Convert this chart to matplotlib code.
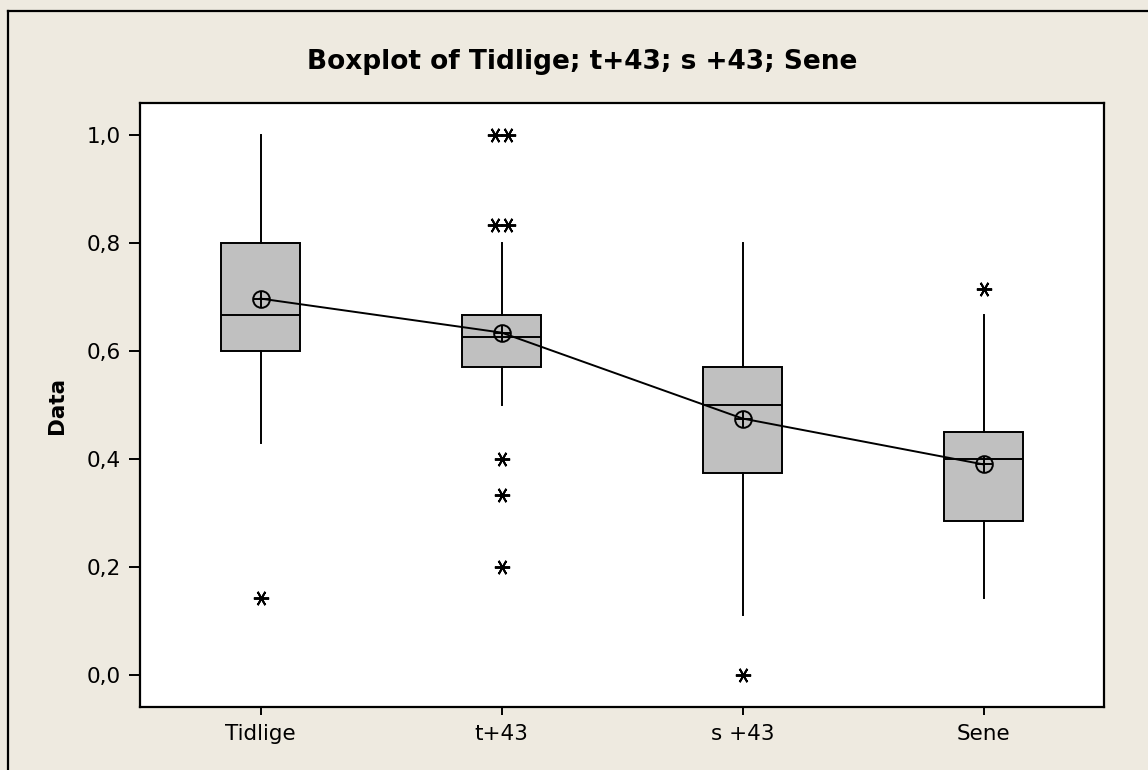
import matplotlib
matplotlib.use("Agg")
import matplotlib.pyplot as plt
from matplotlib.lines import Line2D
from matplotlib.ticker import FuncFormatter
from collections import Counter

# Data
categories = ["Tidlige", "t+43", "s +43", "Sene"]
q1 = [0.600, 0.571, 0.375, 0.286]
median = [0.667, 0.625, 0.500, 0.400]
q3 = [0.800, 0.667, 0.571, 0.450]
whisker_low = [0.429, 0.500, 0.111, 0.143]
whisker_high = [1.000, 0.800, 0.800, 0.667]
means = [0.697, 0.634, 0.475, 0.390]
outliers = [
    [0.143],
    [1.0, 1.0, 0.833, 0.833, 0.4, 0.333, 0.2],
    [0.0],
    [0.714],
]

bg = "#EEEAE0"
box_fill = "#C0C0C0"

fig = plt.figure(figsize=(11.48, 7.70), dpi=100)
fig.patch.set_facecolor(bg)
ax = fig.add_axes([140 / 1148, 63 / 770, 964 / 1148, 604 / 770])
ax.set_facecolor("white")

positions = list(range(1, len(categories) + 1))
stats = []
for i in range(len(categories)):
    stats.append(dict(med=median[i], q1=q1[i], q3=q3[i],
                      whislo=whisker_low[i], whishi=whisker_high[i],
                      fliers=[], mean=means[i], label=categories[i]))

ax.bxp(stats, positions=positions, widths=0.33, patch_artist=True,
       showcaps=False, showfliers=False, showmeans=False,
       boxprops=dict(facecolor=box_fill, edgecolor="black", linewidth=1.4),
       medianprops=dict(color="black", linewidth=1.4),
       whiskerprops=dict(color="black", linewidth=1.4))

# outliers, tied values placed side by side
for pos, vals in zip(positions, outliers):
    counts = Counter(vals)
    for v, n in counts.items():
        for k in range(n):
            dx = (k - (n - 1) / 2) * 0.055
            ax.plot(pos + dx, v, marker=(6, 2, 90), markersize=11,
                    color="black", markeredgewidth=1.4, linestyle="none")

# mean connect line and circle-plus symbols
ax.plot(positions, means, color="black", linewidth=1.4, zorder=4)
ax.plot(positions, means, marker="o", markersize=12, markerfacecolor="none",
        markeredgecolor="black", markeredgewidth=1.4, linestyle="none", zorder=5)
ax.plot(positions, means, marker="+", markersize=12, color="black",
        markeredgewidth=1.4, linestyle="none", zorder=5)

ax.set_xlim(0.5, 4.5)
ax.set_ylim(-0.059, 1.059)
ax.set_xticks(positions)
ax.set_xticklabels(categories)
ax.set_yticks([0.0, 0.2, 0.4, 0.6, 0.8, 1.0])
ax.yaxis.set_major_formatter(FuncFormatter(lambda v, p: f"{v:.1f}".replace(".", ",")))
ax.tick_params(axis="both", direction="out", length=6, width=1.4, labelsize=15.5, pad=6)
ax.tick_params(axis="y", length=8)

for s in ["left", "bottom", "right", "top"]:
    ax.spines[s].set_linewidth(1.6)

ax.set_ylabel("Data", fontsize=15.5, fontweight="bold", labelpad=14)

fig.text(582 / 1148, 1 - 62 / 770, "Boxplot of Tidlige; t+43; s +43; Sene",
         ha="center", va="center", fontsize=19, fontweight="bold")

# outer frame (left and top edges visible)
fig.add_artist(Line2D([8 / 1148, 8 / 1148], [0, 1 - 11 / 770], color="black",
                      linewidth=1.6, transform=fig.transFigure))
fig.add_artist(Line2D([8 / 1148, 1], [1 - 11 / 770, 1 - 11 / 770], color="black",
                      linewidth=1.6, transform=fig.transFigure))

fig.savefig("out.png", dpi=100, facecolor=bg)
plt.close(fig)
